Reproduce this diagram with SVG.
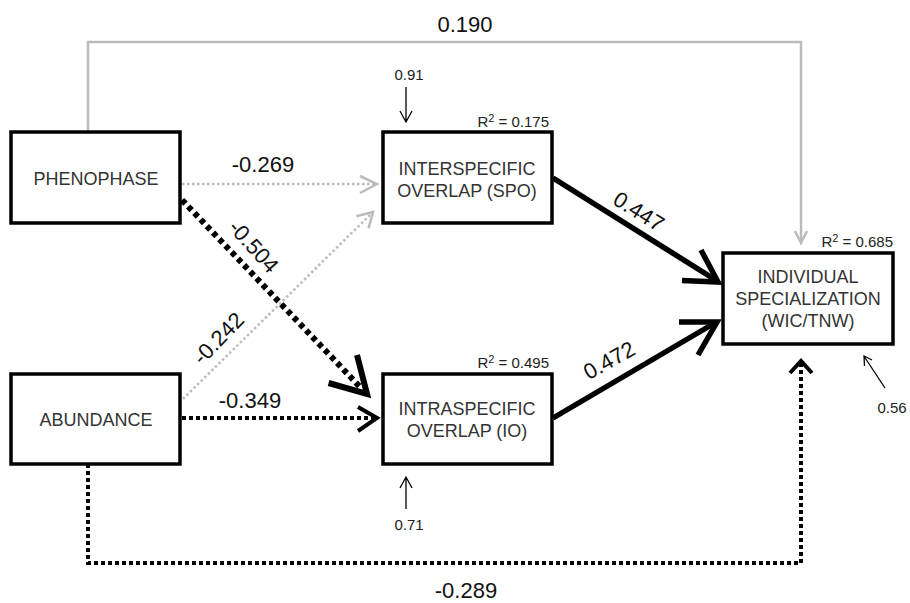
<svg xmlns="http://www.w3.org/2000/svg" width="910" height="603" viewBox="0 0 910 603">
<style>
.box{fill:#fff;stroke:#000;stroke-width:3.5}
.nt{font-family:"Liberation Sans",Arial,sans-serif;font-size:18px;fill:#333;text-anchor:middle}
.lab{font-family:"Liberation Sans",Arial,sans-serif;font-size:22px;fill:#111;text-anchor:middle}
.sm{font-family:"Liberation Sans",Arial,sans-serif;font-size:15px;fill:#222}
.gray{fill:none;stroke:#bbb;stroke-width:2.5}
.gdot{fill:none;stroke:#bbb;stroke-width:2.5;stroke-dasharray:2.5 2.5}
.bthick{fill:none;stroke:#000;stroke-width:6;stroke-dasharray:5 4}
.bdot{fill:none;stroke:#000;stroke-width:4;stroke-dasharray:4 3}
.solid{fill:none;stroke:#000;stroke-width:5.5}
.head{fill:none;stroke-linejoin:miter;stroke-linecap:butt}
.thin{fill:none;stroke:#000;stroke-width:1.3}
</style>
<rect width="910" height="603" fill="#fff"/>
<g id="connectors">
  <!-- 0.190 -->
  <path class="gray" d="M88,132 V42 H801 V241"/>
  <path class="head" stroke="#bbb" stroke-width="2.5" d="M795,231 L801,243 L807,231"/>
  <!-- -0.269 -->
  <path class="gdot" d="M182,184 H374"/>
  <path class="head" stroke="#bbb" stroke-width="2.5" d="M360,176 L377,184 L360,193"/>
  <!-- -0.242 -->
  <path class="gdot" d="M183,399 L370,215"/>
  <path class="head" stroke="#bbb" stroke-width="2.5" d="M356.5,216.3 L373,212 L368.5,228.4"/>
  <!-- -0.504 -->
  <path class="bthick" d="M182,200 L362,389"/>
  <path class="head" stroke="#000" stroke-width="6" d="M357,355 L367,394 L328.6,383"/>
  <!-- -0.349 -->
  <path class="bdot" d="M182,418 H373"/>
  <path class="head" stroke="#000" stroke-width="4" d="M358,407 L377,418 L358,431"/>
  <!-- -0.289 -->
  <path class="bdot" d="M88,464 V563 H801 V364"/>
  <path class="head" stroke="#000" stroke-width="4" d="M790,373 L801,361 L812,373"/>
  <!-- 0.447 -->
  <path class="solid" d="M553,178 L714,279"/>
  <path class="head" stroke="#000" stroke-width="5.5" d="M701,250 L718,282 L682,280.6"/>
  <!-- 0.472 -->
  <path class="solid" d="M553,418 L713,324"/>
  <path class="head" stroke="#000" stroke-width="5.5" d="M679,322 L717,322 L698,355"/>
  <!-- residuals -->
  <path class="thin" d="M406,87 V121 M400,111 L406,122 L412,111"/>
  <path class="thin" d="M406,509 V478 M400,488 L406,477 L412,488"/>
  <path class="thin" d="M885,388 L864.5,357 M864.5,366 L864,356 L872,360"/>
</g>
<g id="labels">
  <text class="lab" x="465" y="32">0.190</text>
  <text class="lab" x="263" y="172">-0.269</text>
  <text class="lab" x="250" y="408">-0.349</text>
  <text class="lab" x="466" y="598">-0.289</text>
  <text class="lab" transform="translate(254,246) rotate(48)" y="8">-0.504</text>
  <text class="lab" transform="translate(218,338) rotate(-46)" y="8">-0.242</text>
  <text class="lab" transform="translate(639,211) rotate(32)" y="8">0.447</text>
  <text class="lab" transform="translate(609,360) rotate(-29)" y="8">0.472</text>
  <text class="sm" x="409" y="80" text-anchor="middle">0.91</text>
  <text class="sm" x="409" y="530" text-anchor="middle">0.71</text>
  <text class="sm" x="892" y="413" text-anchor="middle">0.56</text>
  <text class="sm" x="549" y="127" text-anchor="end">R<tspan font-size="11" dy="-5">2</tspan><tspan dy="5"> = 0.175</tspan></text>
  <text class="sm" x="549" y="368" text-anchor="end">R<tspan font-size="11" dy="-5">2</tspan><tspan dy="5"> = 0.495</tspan></text>
  <text class="sm" x="893" y="247" text-anchor="end">R<tspan font-size="11" dy="-5">2</tspan><tspan dy="5"> = 0.685</tspan></text>
</g>
<g id="phenophase">
  <rect class="box" x="11" y="132" width="169" height="91"/>
  <text class="nt" x="96" y="185">PHENOPHASE</text>
</g>
<g id="abundance">
  <rect class="box" x="11" y="374" width="169" height="90"/>
  <text class="nt" x="96" y="426">ABUNDANCE</text>
</g>
<g id="interspecific">
  <rect class="box" x="383" y="132" width="169" height="91"/>
  <text class="nt" x="467" y="175">INTERSPECIFIC</text>
  <text class="nt" x="467" y="197">OVERLAP (SPO)</text>
</g>
<g id="intraspecific">
  <rect class="box" x="383" y="374" width="169" height="90"/>
  <text class="nt" x="467" y="415">INTRASPECIFIC</text>
  <text class="nt" x="467" y="437">OVERLAP (IO)</text>
</g>
<g id="individual">
  <rect class="box" x="723" y="253" width="170" height="91"/>
  <text class="nt" x="808" y="283">INDIVIDUAL</text>
  <text class="nt" x="808" y="305">SPECIALIZATION</text>
  <text class="nt" x="808" y="327">(WIC/TNW)</text>
</g>
</svg>
